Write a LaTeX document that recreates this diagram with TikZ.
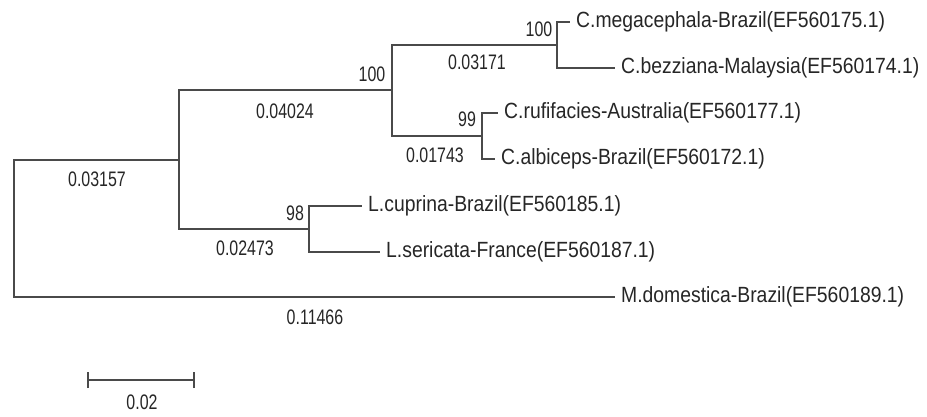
\documentclass[tikz,border=0pt]{standalone}
\usepackage{fontspec}
\setmainfont{Liberation Sans}
\newfontfamily\leaffont[FakeStretch=0.88]{Liberation Sans}
\newfontfamily\numfont[FakeStretch=0.76]{Liberation Sans}
\definecolor{branch}{HTML}{4A4A4A}
\definecolor{txt}{HTML}{262626}
\tikzset{
  edge/.style={draw=branch, line width=2.2pt},
  leaf/.style={anchor=west, inner xsep=6pt, inner ysep=0pt, text=txt, font=\leaffont\fontsize{22}{22}\selectfont},
  num/.style={inner sep=0pt, text=txt, font=\numfont\fontsize{21}{21}\selectfont},
}
\begin{document}
\begin{tikzpicture}[x=1pt,y=-1pt]
\useasboundingbox[fill=white] (0,0) rectangle (927,416);
% internal nodes
\coordinate (R) at (14,228.5);
\coordinate (A) at (179,160);
\coordinate (B) at (392,90);
\coordinate (C) at (557,45);
\coordinate (D) at (482,136);
\coordinate (E) at (309,229);
% leaves
\node[leaf] (l1) at (570,22) {C.megacephala-Brazil(EF560175.1)};
\node[leaf] (l2) at (615,68) {C.bezziana-Malaysia(EF560174.1)};
\node[leaf] (l3) at (498,113) {C.rufifacies-Australia(EF560177.1)};
\node[leaf] (l4) at (495,159) {C.albiceps-Brazil(EF560172.1)};
\node[leaf] (l5) at (362,206) {L.cuprina-Brazil(EF560185.1)};
\node[leaf] (l6) at (380,252) {L.sericata-France(EF560187.1)};
\node[leaf] (l7) at (615,297) {M.domestica-Brazil(EF560189.1)};
% branches
\draw[edge] (R) |- (A);
\draw[edge] (R) |- (l7.west);
\draw[edge] (A) |- (B);
\draw[edge] (A) |- (E);
\draw[edge] (B) |- (C);
\draw[edge] (B) |- (D);
\draw[edge] (C) |- (l1.west);
\draw[edge] (C) |- (l2.west);
\draw[edge] (D) |- (l3.west);
\draw[edge] (D) |- (l4.west);
\draw[edge] (E) |- (l5.west);
\draw[edge] (E) |- (l6.west);
% branch lengths
\node[num] (b1) at (97,179) {0.03157};
\node[num] (b2) at (285,111) {0.04024};
\node[num] (b3) at (477,62) {0.03171};
\node[num] (b4) at (435,155) {0.01743};
\node[num] (b5) at (245,248) {0.02473};
\node[num] (b6) at (315,317) {0.11466};
% bootstrap values
\node[num] (s1) at (372,74) {100};
\node[num] (s2) at (539,29) {100};
\node[num] (s3) at (467,119) {99};
\node[num] (s4) at (295,213) {98};
% scale bar
\coordinate (sb1) at (88,380);
\coordinate (sb2) at (194,380);
\draw[edge] (sb1) -- (sb2);
\draw[edge] ([yshift=-8pt]sb1) -- ([yshift=8pt]sb1);
\draw[edge] ([yshift=-8pt]sb2) -- ([yshift=8pt]sb2);
\node[num] (sbl) at (142,402) {0.02};
\end{tikzpicture}
\end{document}
